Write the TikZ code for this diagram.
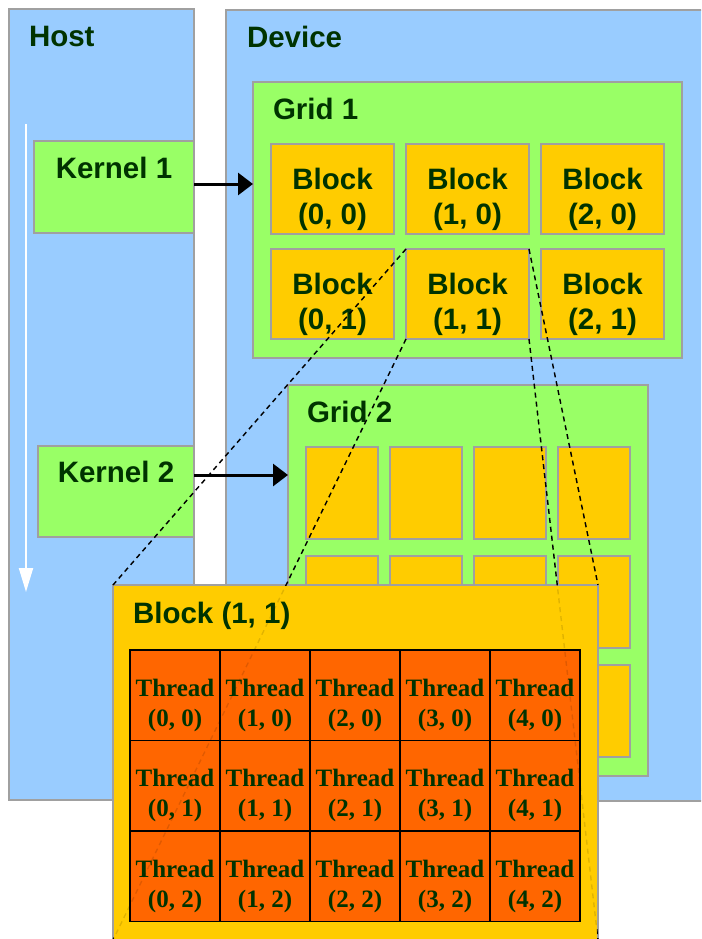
\documentclass[tikz,border=0pt]{standalone}
\usepackage{fontspec}
\setmainfont{Liberation Sans}
\newfontfamily\threadfont{Liberation Serif}
\usetikzlibrary{arrows.meta,positioning}
\definecolor{hostblue}{HTML}{99CCFF}
\definecolor{gridgreen}{HTML}{99FF66}
\definecolor{blockyellow}{HTML}{FFCC00}
\definecolor{threadorange}{HTML}{FF6600}
\definecolor{inkgreen}{HTML}{003300}
\definecolor{edgegray}{HTML}{A0A0A0}
\begin{document}
\begin{tikzpicture}[x=1pt,y=-1pt,inner sep=0pt,outer sep=0pt,
  area/.style={draw=edgegray,line width=1.5pt,anchor=north west},
  title/.style={anchor=base west,text=inkgreen,font=\bfseries\fontsize{29.5}{30}\selectfont},
  big/.style={text=inkgreen,font=\bfseries\fontsize{29.5}{35}\selectfont,align=center},
  threadtext/.style={text=inkgreen,font=\threadfont\bfseries\fontsize{25}{30}\selectfont,align=center,yshift=-10pt},
  flow/.style={-{Triangle[length=15pt,width=22pt]},line width=3pt},
  zoomline/.style={dash pattern=on 5pt off 4pt,line width=1.4pt}]
\useasboundingbox (0,0) rectangle (701,939);
\clip (0,0) rectangle (701,939);
\node[area,fill=hostblue,minimum width=185pt,minimum height=791pt] (host) at (9,9) {};
\node[area,fill=hostblue,minimum width=480pt,minimum height=791pt] (device) at (226,10) {};
\node[title] at ([shift={(20,38)}]host.north west) {Host};
\node[title] at ([shift={(21,38)}]device.north west) {Device};
\coordinate (tstart) at (26,124);\coordinate (tend) at (26,592);
\draw[white,line width=2pt,-{Triangle[length=24pt,width=14pt]}] (tstart)--(tend);
\node[area,fill=gridgreen,minimum width=160pt,minimum height=92pt,label={[big,anchor=base,yshift=-37pt]north:Kernel 1}] (kernel1) at (34,141) {};
\node[area,fill=gridgreen,minimum width=156pt,minimum height=91pt,label={[big,anchor=base,yshift=-36pt]north:Kernel 2}] (kernel2) at (38,446) {};
\node[area,fill=gridgreen,minimum width=429pt,minimum height=276pt] (grid1) at (253,82) {};
\node[title] at ([shift={(20,38)}]grid1.north west) {Grid 1};
\foreach \c in {0,1,2} \foreach \r in {0,1}
  \node[area,fill=blockyellow,minimum width=123pt,minimum height=90pt,label={[big,yshift=-10pt]center:Block\\(\c, \r)}] (blk\c\r) at (271+135*\c,144+105*\r) {};
\node[area,fill=gridgreen,minimum width=360pt,minimum height=391pt] (grid2) at (288,385) {};
\node[title] at ([shift={(19,37)}]grid2.north west) {Grid 2};
\foreach \c in {0,...,3} \foreach \r in {0,1,2}
  \node[area,fill=blockyellow,minimum width=72pt,minimum height=92pt] (cell\c\r) at (306+84*\c,447+109*\r) {};
\coordinate (k1out) at ([yshift=3pt]kernel1.east);\coordinate (k2out) at ([yshift=16.5pt]kernel2.east);
\draw[flow] (k1out)--(k1out -| grid1.west);\draw[flow] (k2out)--(k2out -| grid2.west);
\node[area,fill=blockyellow,minimum width=485pt,minimum height=355pt] (block11) at (113,585) {};
\foreach \a in {north west,south west,north east,south east} \draw[zoomline] (blk11.\a)--(block11.\a);
\fill[blockyellow] ([shift={(1,1)}]block11.north west) rectangle ([shift={(-1,-1)}]block11.south east);
\node[title] at ([shift={(20,38)}]block11.north west) {Block (1, 1)};
\foreach \c in {0,...,4} \foreach \r in {0,1,2}
  \node[draw=black,line width=1.5pt,fill=threadorange,anchor=north west,minimum width=90pt,minimum height=90.5pt,label={[threadtext]center:Thread\\(\c, \r)}] (th\c\r) at (130+90*\c,650+90.5*\r) {};
\foreach \a in {north west,south west,north east,south east} \draw[zoomline,opacity=0.12] (blk11.\a)--(block11.\a);
\end{tikzpicture}
\end{document}
